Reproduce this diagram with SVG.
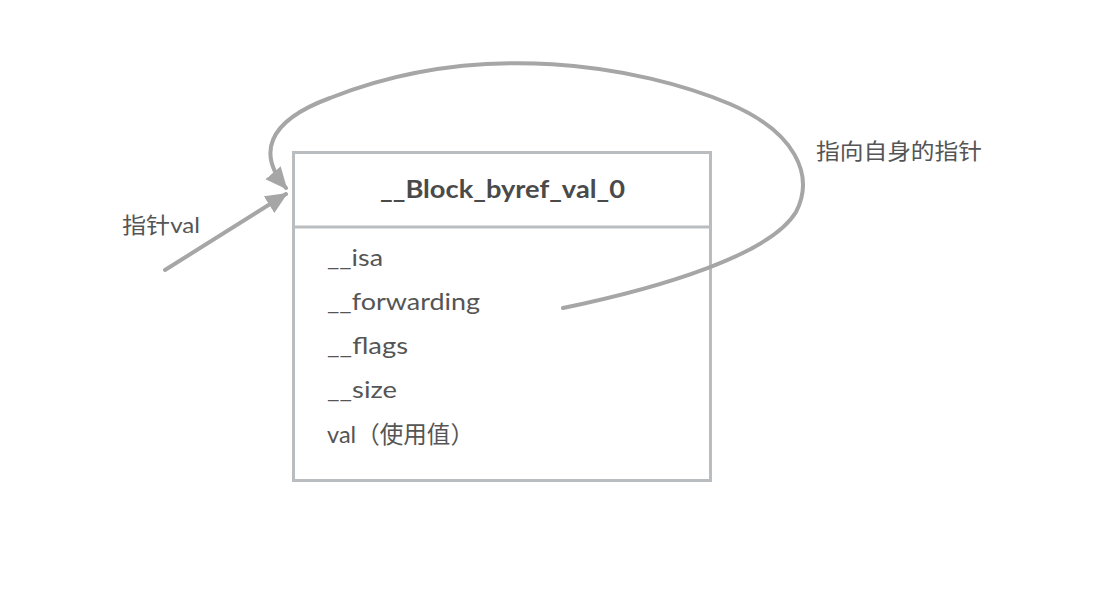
<svg xmlns="http://www.w3.org/2000/svg" width="1102" height="592" viewBox="0 0 1102 592">
<style>
.box{fill:#fff;stroke:#babdbf;stroke-width:3}
.div{stroke:#babdbf;stroke-width:3}
.conn{fill:none;stroke:#a6a6a6;stroke-width:4;stroke-linecap:round}
.title{font-family:Lato,"Noto Sans CJK SC",sans-serif;font-weight:bold;font-size:24px;fill:#4a4a4a}
.field{font-family:Lato,"Noto Sans CJK SC",sans-serif;font-size:24px;fill:#555}
.lbl{font-family:Lato,"Noto Sans CJK SC",sans-serif;font-size:22px;fill:#555}
</style>
<defs>
<marker id="ah" markerUnits="userSpaceOnUse" markerWidth="24" markerHeight="22" refX="20" refY="10" orient="auto">
<path d="M0,0 L22,10 L0,20 z" fill="#a6a6a6"/>
</marker>
</defs>
<g id="node-block">
<rect class="box" x="293.5" y="152.5" width="417" height="328"/>
<line class="div" x1="293.5" y1="227" x2="710.5" y2="227"/>
<text class="title" x="380" y="198" textLength="245" lengthAdjust="spacingAndGlyphs">__Block_byref_val_0</text>
<text class="field" x="327" y="266" textLength="56" lengthAdjust="spacingAndGlyphs">__isa</text>
<text class="field" x="327" y="310" textLength="153" lengthAdjust="spacingAndGlyphs">__forwarding</text>
<text class="field" x="327" y="354" textLength="81" lengthAdjust="spacingAndGlyphs">__flags</text>
<text class="field" x="327" y="398" textLength="70" lengthAdjust="spacingAndGlyphs">__size</text>
<text class="field" x="327" y="443" textLength="147" lengthAdjust="spacingAndGlyphs">val（使用值）</text>
</g>
<g id="label-ptr">
<text class="lbl" x="122" y="233" textLength="78" lengthAdjust="spacingAndGlyphs">指针val</text>
</g>
<g id="label-self">
<text class="lbl" x="816" y="159" textLength="166" lengthAdjust="spacingAndGlyphs">指向自身的指针</text>
</g>
<g id="connectors">
<path class="conn" d="M165,270 L286,194" marker-end="url(#ah)"/>
<path class="conn" d="M563,308 C660,288 770,255 796,212 C815,175 795,132 730,104 C640,66 480,38 330,98 C265,122 258,155 286,188" marker-end="url(#ah)"/>
</g>
</svg>
